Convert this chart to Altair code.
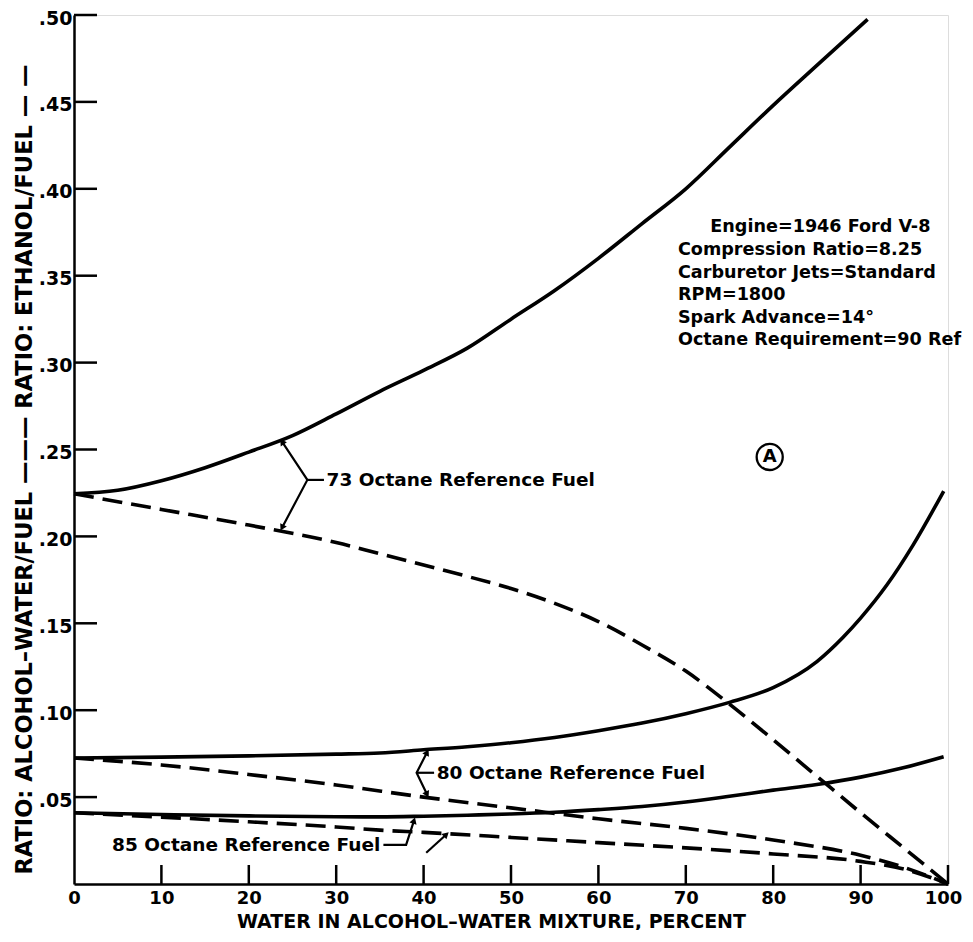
import math
import altair as alt
import pandas as pd

# ---------------- data ----------------
x73s = [0, 5, 10, 15, 20, 25, 30, 35, 40, 45, 50, 55, 60, 65, 70, 75, 80, 85, 90.8]
y73s = [0.2245, 0.2265, 0.232, 0.2395, 0.2485, 0.258, 0.2705, 0.2835, 0.2955, 0.3083,
        0.325, 0.3415, 0.360, 0.380, 0.400, 0.424, 0.448, 0.471, 0.4975]
x73d = [0, 10, 20, 30, 35, 40, 45, 50, 55, 60, 65, 70, 75, 80, 85, 90, 95, 100]
y73d = [0.2245, 0.2155, 0.2065, 0.1965, 0.190, 0.1835, 0.177, 0.170, 0.1615, 0.151,
        0.1375, 0.1225, 0.1035, 0.083, 0.062, 0.041, 0.0205, 0.0]
x80s = [0, 10, 20, 30, 35, 40, 45, 50, 55, 60, 65, 70, 75, 80, 85, 88, 90, 93, 96, 99.5]
y80s = [0.0725, 0.073, 0.0737, 0.0747, 0.0754, 0.0772, 0.079, 0.0813, 0.0843, 0.0882,
        0.0926, 0.098, 0.1045, 0.113, 0.128, 0.142, 0.153, 0.172, 0.195, 0.226]
x80d = [0, 10, 20, 30, 40, 50, 60, 70, 80, 90, 95, 100]
y80d = [0.0725, 0.0685, 0.063, 0.057, 0.050, 0.0438, 0.0375, 0.032, 0.0253, 0.0165, 0.0095, 0.0]
x85s = [0, 10, 20, 30, 35, 40, 45, 50, 55, 60, 65, 70, 75, 80, 85, 90, 95, 99.5]
y85s = [0.041, 0.040, 0.0392, 0.0387, 0.0386, 0.039, 0.0396, 0.0403, 0.0413, 0.0428,
        0.0446, 0.0472, 0.0505, 0.054, 0.0573, 0.0615, 0.067, 0.0732]
x85d = [0, 10, 20, 30, 35, 40, 50, 60, 70, 80, 90, 95, 100]
y85d = [0.041, 0.0385, 0.0358, 0.0328, 0.031, 0.0297, 0.0268, 0.0238, 0.0208, 0.0173,
        0.013, 0.0085, 0.0]

x_ticks = [0, 10, 20, 30, 40, 50, 60, 70, 80, 90, 100]
y_ticks = [0.05, 0.10, 0.15, 0.20, 0.25, 0.30, 0.35, 0.40, 0.45, 0.50]

# fuel labels: text, x, y
fuel_labels = ["73 Octane Reference Fuel", "80 Octane Reference Fuel", "85 Octane Reference Fuel"]
fuel_label_x = [28.9, 41.5, 4.35]
fuel_label_y = [0.2325, 0.064, 0.0225]

# leader lines (segment id, x, y)
leader_seg = ["a", "a", "a", "b", "b", "c", "c", "c", "c", "d", "d", "e", "e", "e"]
leader_x = [23.8, 26.7, 23.8, 26.7, 28.6, 40.4, 39.2, 40.4, 39.2, 39.2, 41.2, 35.4, 38.0, 38.9]
leader_y = [0.2545, 0.2325, 0.205, 0.2325, 0.2325, 0.0758, 0.064, 0.0515, 0.064, 0.064, 0.064,
            0.0225, 0.0225, 0.0365]
leader_seg2 = ["f", "f"]
leader2_x = [40.3, 42.6]
leader2_y = [0.018, 0.0285]

# arrow heads: tip x, tip y, from x, from y
head_x = [23.8, 23.8, 40.4, 40.4, 38.9, 42.6]
head_y = [0.2545, 0.205, 0.0758, 0.0515, 0.0365, 0.0285]
head_from_x = [26.7, 26.7, 39.2, 39.2, 38.0, 40.3]
head_from_y = [0.2325, 0.2325, 0.064, 0.064, 0.0225, 0.018]

info_lines = ["Engine=1946 Ford V-8", "Compression Ratio=8.25", "Carburetor Jets=Standard",
              "RPM=1800", "Spark Advance=14°", "Octane Requirement=90 Ref"]
info_x = [72.8, 69.1, 69.1, 69.1, 69.1, 69.1]
info_y = [0.378, 0.3648, 0.3516, 0.3389, 0.3257, 0.313]

circle_label = ["A"]
circle_x = [79.6]
circle_y = [0.2457]

# ---------------- layout ----------------
W, H = 874, 869
FONT = "DejaVu Sans"

rows = []
for name, xs, ys, dash in [("73s", x73s, y73s, "solid"), ("73d", x73d, y73d, "dashed"),
                           ("80s", x80s, y80s, "solid"), ("80d", x80d, y80d, "dashed"),
                           ("85s", x85s, y85s, "solid"), ("85d", x85d, y85d, "dashed")]:
    for i, (a, b) in enumerate(zip(xs, ys)):
        rows.append({"x": a, "y": b, "series": name, "style": dash, "i": i})
df = pd.DataFrame(rows)

xscale = alt.Scale(domain=[0, 100], nice=False, zero=False)
yscale = alt.Scale(domain=[0, 0.5], nice=False, zero=False)

xaxis = alt.Axis(values=x_ticks, ticks=False, grid=False, domainColor="black", domainWidth=2.5,
                 labelFont=FONT, labelFontWeight="bold", labelFontSize=18, labelColor="black",
                 labelPadding=5, labelFlush=False,
                 labelOffset={"condition": {"test": "datum.value == 100", "value": -5}, "value": 0},
                 title="WATER IN ALCOHOL\u2013WATER MIXTURE, PERCENT",
                 titleFont=FONT, titleFontWeight="bold", titleFontSize=19, titleColor="black",
                 titleX=417, titleY=43, titleBaseline="alphabetic", titleAlign="center")
yaxis = alt.Axis(values=y_ticks, ticks=False, grid=False, domainColor="black", domainWidth=2.5,
                 labelFont=FONT, labelFontWeight="bold", labelFontSize=19, labelColor="black",
                 labelPadding=2, labelFlush=False, labelOffset=3,
                 labelExpr="replace(format(datum.value, '.2f'), '0.', '.')",
                 title="RATIO: ALCOHOL\u2013WATER/FUEL \u2014\u2014\u2014  RATIO: ETHANOL/FUEL \u2014 \u2014",
                 titleFont=FONT, titleFontWeight="bold", titleFontSize=22.5, titleColor="black",
                 titleX=-50, titleY=454, titleAngle=270, titleBaseline="middle", titleAlign="center")

base_x = alt.X("x:Q", scale=xscale, axis=xaxis)
base_y = alt.Y("y:Q", scale=yscale, axis=yaxis)

solid = alt.Chart(df[df["style"] == "solid"]).mark_line(
    color="black", strokeWidth=3.6, interpolate="monotone"
).encode(x=base_x, y=base_y, detail="series:N", order="i:Q")

dashed = alt.Chart(df[df["style"] == "dashed"]).mark_line(
    color="black", strokeWidth=3.6, interpolate="monotone", strokeDash=[20, 9]
).encode(x=alt.X("x:Q", scale=xscale), y=alt.Y("y:Q", scale=yscale), detail="series:N", order="i:Q")

# inward ticks
ytick_df = pd.DataFrame({"y": y_ticks})
ytick_layer = alt.Chart(ytick_df).mark_rule(color="black", strokeWidth=2.5).encode(
    y=alt.Y("y:Q", scale=yscale), x=alt.value(0), x2=alt.value(23))
xtick_df = pd.DataFrame({"x": x_ticks[1:]})
xtick_layer = alt.Chart(xtick_df).mark_rule(color="black", strokeWidth=2.5).encode(
    x=alt.X("x:Q", scale=xscale), y=alt.value(H), y2=alt.value(H - 19))

# leaders
lead_df = pd.DataFrame({"seg": leader_seg + leader_seg2, "x": leader_x + leader2_x,
                        "y": leader_y + leader2_y,
                        "o": list(range(len(leader_seg) + len(leader_seg2)))})
leaders = alt.Chart(lead_df).mark_line(color="black", strokeWidth=2.2).encode(
    x=alt.X("x:Q", scale=xscale), y=alt.Y("y:Q", scale=yscale), detail="seg:N", order="o:Q")

angles = []
for tx, ty, fx, fy in zip(head_x, head_y, head_from_x, head_from_y):
    dx = (tx - fx) * W / 100.0
    dy = -(ty - fy) * H / 0.5
    ang = math.degrees(math.atan2(dx, -dy)) % 360
    angles.append(ang)
head_df = pd.DataFrame({"x": head_x, "y": head_y, "a": angles})
heads = alt.Chart(head_df).mark_point(shape="triangle-up", filled=True, color="black",
                                      size=55, opacity=1).encode(
    x=alt.X("x:Q", scale=xscale), y=alt.Y("y:Q", scale=yscale),
    angle=alt.Angle("a:Q", scale=None))

lab_df = pd.DataFrame({"t": fuel_labels, "x": fuel_label_x, "y": fuel_label_y})
labels = alt.Chart(lab_df).mark_text(align="left", baseline="middle", font=FONT,
                                     fontWeight="bold", fontSize=18.5, color="black").encode(
    x=alt.X("x:Q", scale=xscale), y=alt.Y("y:Q", scale=yscale), text="t:N")

info_df = pd.DataFrame({"t": info_lines, "x": info_x, "y": info_y})
info = alt.Chart(info_df).mark_text(align="left", baseline="middle", font=FONT,
                                    fontWeight="bold", fontSize=17.6, color="black").encode(
    x=alt.X("x:Q", scale=xscale), y=alt.Y("y:Q", scale=yscale), text="t:N")

circ_df = pd.DataFrame({"t": circle_label, "x": circle_x, "y": circle_y})
circ = alt.Chart(circ_df).mark_point(shape="circle", size=680, filled=False, color="black",
                                     strokeWidth=2.3, opacity=1).encode(
    x=alt.X("x:Q", scale=xscale), y=alt.Y("y:Q", scale=yscale))
circ_t = alt.Chart(circ_df).mark_text(align="center", baseline="middle", font=FONT,
                                      fontWeight="bold", fontSize=18, color="black").encode(
    x=alt.X("x:Q", scale=xscale), y=alt.Y("y:Q", scale=yscale), text="t:N")

chart = alt.layer(solid, dashed, ytick_layer, xtick_layer, leaders, heads, labels, info,
                  circ, circ_t).properties(
    width=W, height=H,
    autosize=alt.AutoSizeParams(type="none"),
    padding={"left": 66, "top": 7, "right": 17, "bottom": 46},
).configure_view(stroke=None).configure(background="white")

chart.save("out.html", embed_options={"renderer": "svg", "actions": False})
